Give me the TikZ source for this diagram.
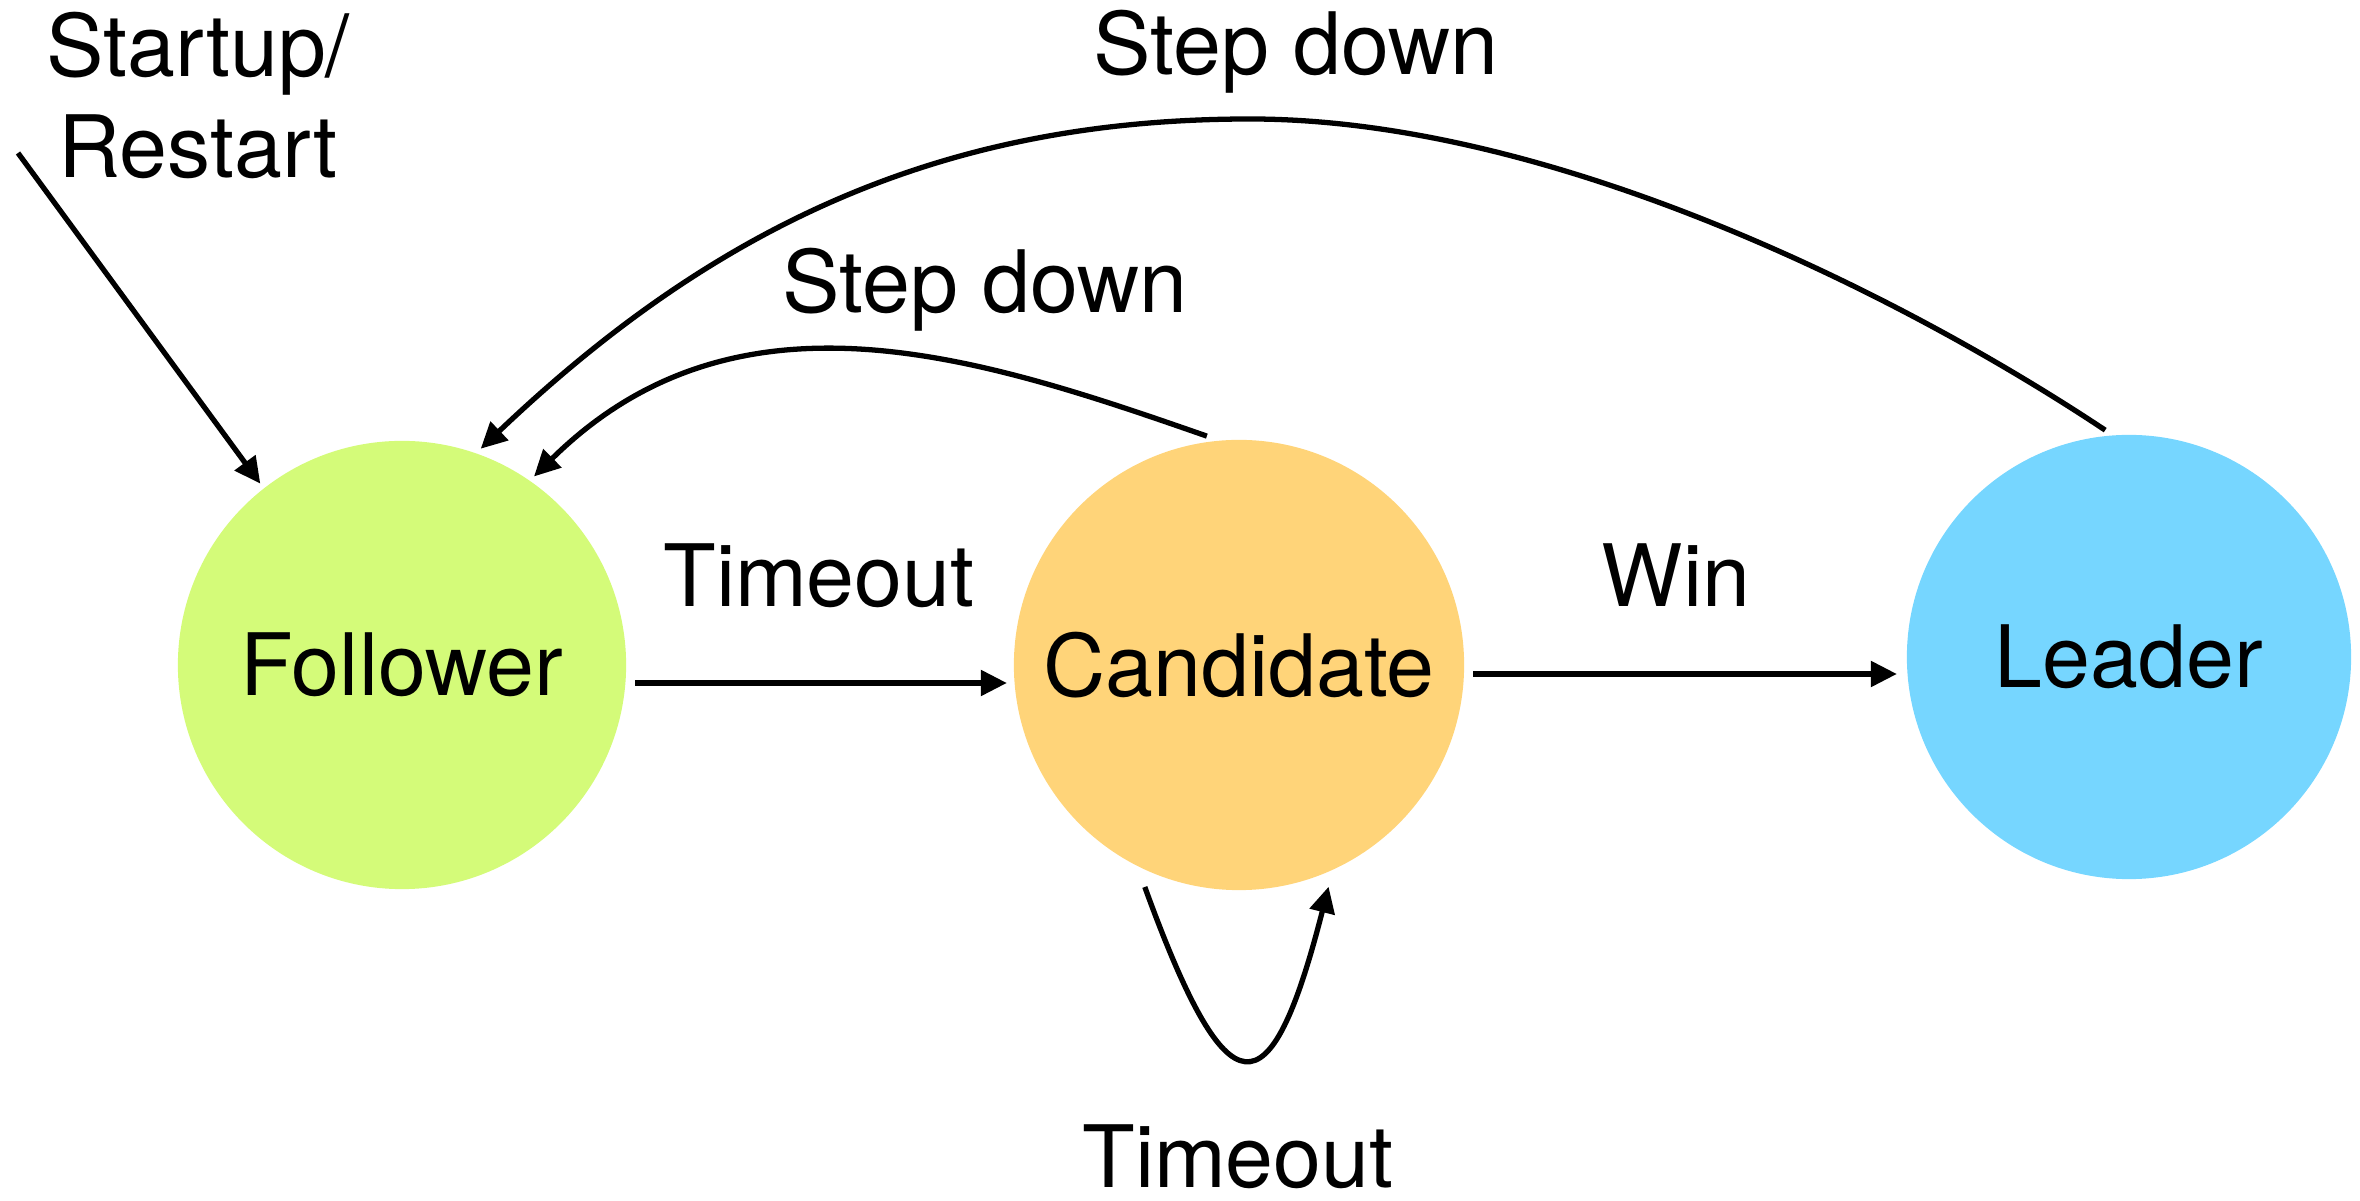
\documentclass[tikz,border=0pt]{standalone}
\usepackage{fontspec}
\setmainfont{TeX Gyre Heros}
\usetikzlibrary{arrows.meta,calc}
\definecolor{honeydew}{HTML}{D4FB79}
\definecolor{cantaloupe}{HTML}{FFD479}
\definecolor{sky}{HTML}{76D6FF}
\begin{document}
\begin{tikzpicture}[x=0.01cm,y=-0.01cm,
  statenode/.style={circle,inner sep=0pt,outer sep=0.06cm,draw=none,
    font=\fontsize{24.5}{29}\selectfont},
  lbl/.style={inner sep=0pt,anchor=base,font=\fontsize{24.5}{29}\selectfont},
  arr/.style={line width=1.5pt,-{Triangle[length=0.26cm,width=0.25cm]}}]
\useasboundingbox (0,0) rectangle (2360,1201);

% states
\node[statenode,fill=honeydew,minimum size=4.48cm] (F) at (402,665) {Follower};
\node[statenode,fill=cantaloupe,minimum size=4.50cm] (C) at (1239,665) {Candidate};
\node[statenode,fill=sky,minimum size=4.44cm] (L) at (2129,657) {Leader};

% entry point
\coordinate (startIn) at (18,153);
\node[lbl] (lblStartA) at (198,77) {Startup/};
\node[lbl] (lblStartB) at (198,178) {Restart};
\draw[arr] (startIn) -- (F.128);

% follower -> candidate
\draw[arr] ($(F.east)+(3,18)$) -- ($(C.west)+(-1,18)$);
\node[lbl] (lblTimeout) at (819,607) {Timeout};

% candidate -> leader
\draw[arr] ($(C.east)+(3,9)$) -- ($(L.west)+(-4,17)$);
\node[lbl] (lblWin) at (1676,607) {Win};

% leader -> follower
\coordinate (outerTop) at (1250,119);
\draw[arr] (L.96) .. controls (1899,293) and (1550,119) .. (outerTop)
  .. controls (950,119) and (721,220) .. (F.70);
\node[lbl] (lblStepOuter) at (1296,75) {Step down};

% candidate -> follower
\draw[arr] (C.98) .. controls (980,357) and (737,276) .. (F.55);
\node[lbl] (lblStepInner) at (985,313) {Step down};

% candidate self loop
\draw[arr] ([shift={(247:2.41cm)}]C.center) .. controls (1228,1116) and (1270,1116)
  .. ([shift={(292:2.39cm)}]C.center);
\node[lbl] (lblLoop) at (1238,1188) {Timeout};
\end{tikzpicture}
\end{document}
